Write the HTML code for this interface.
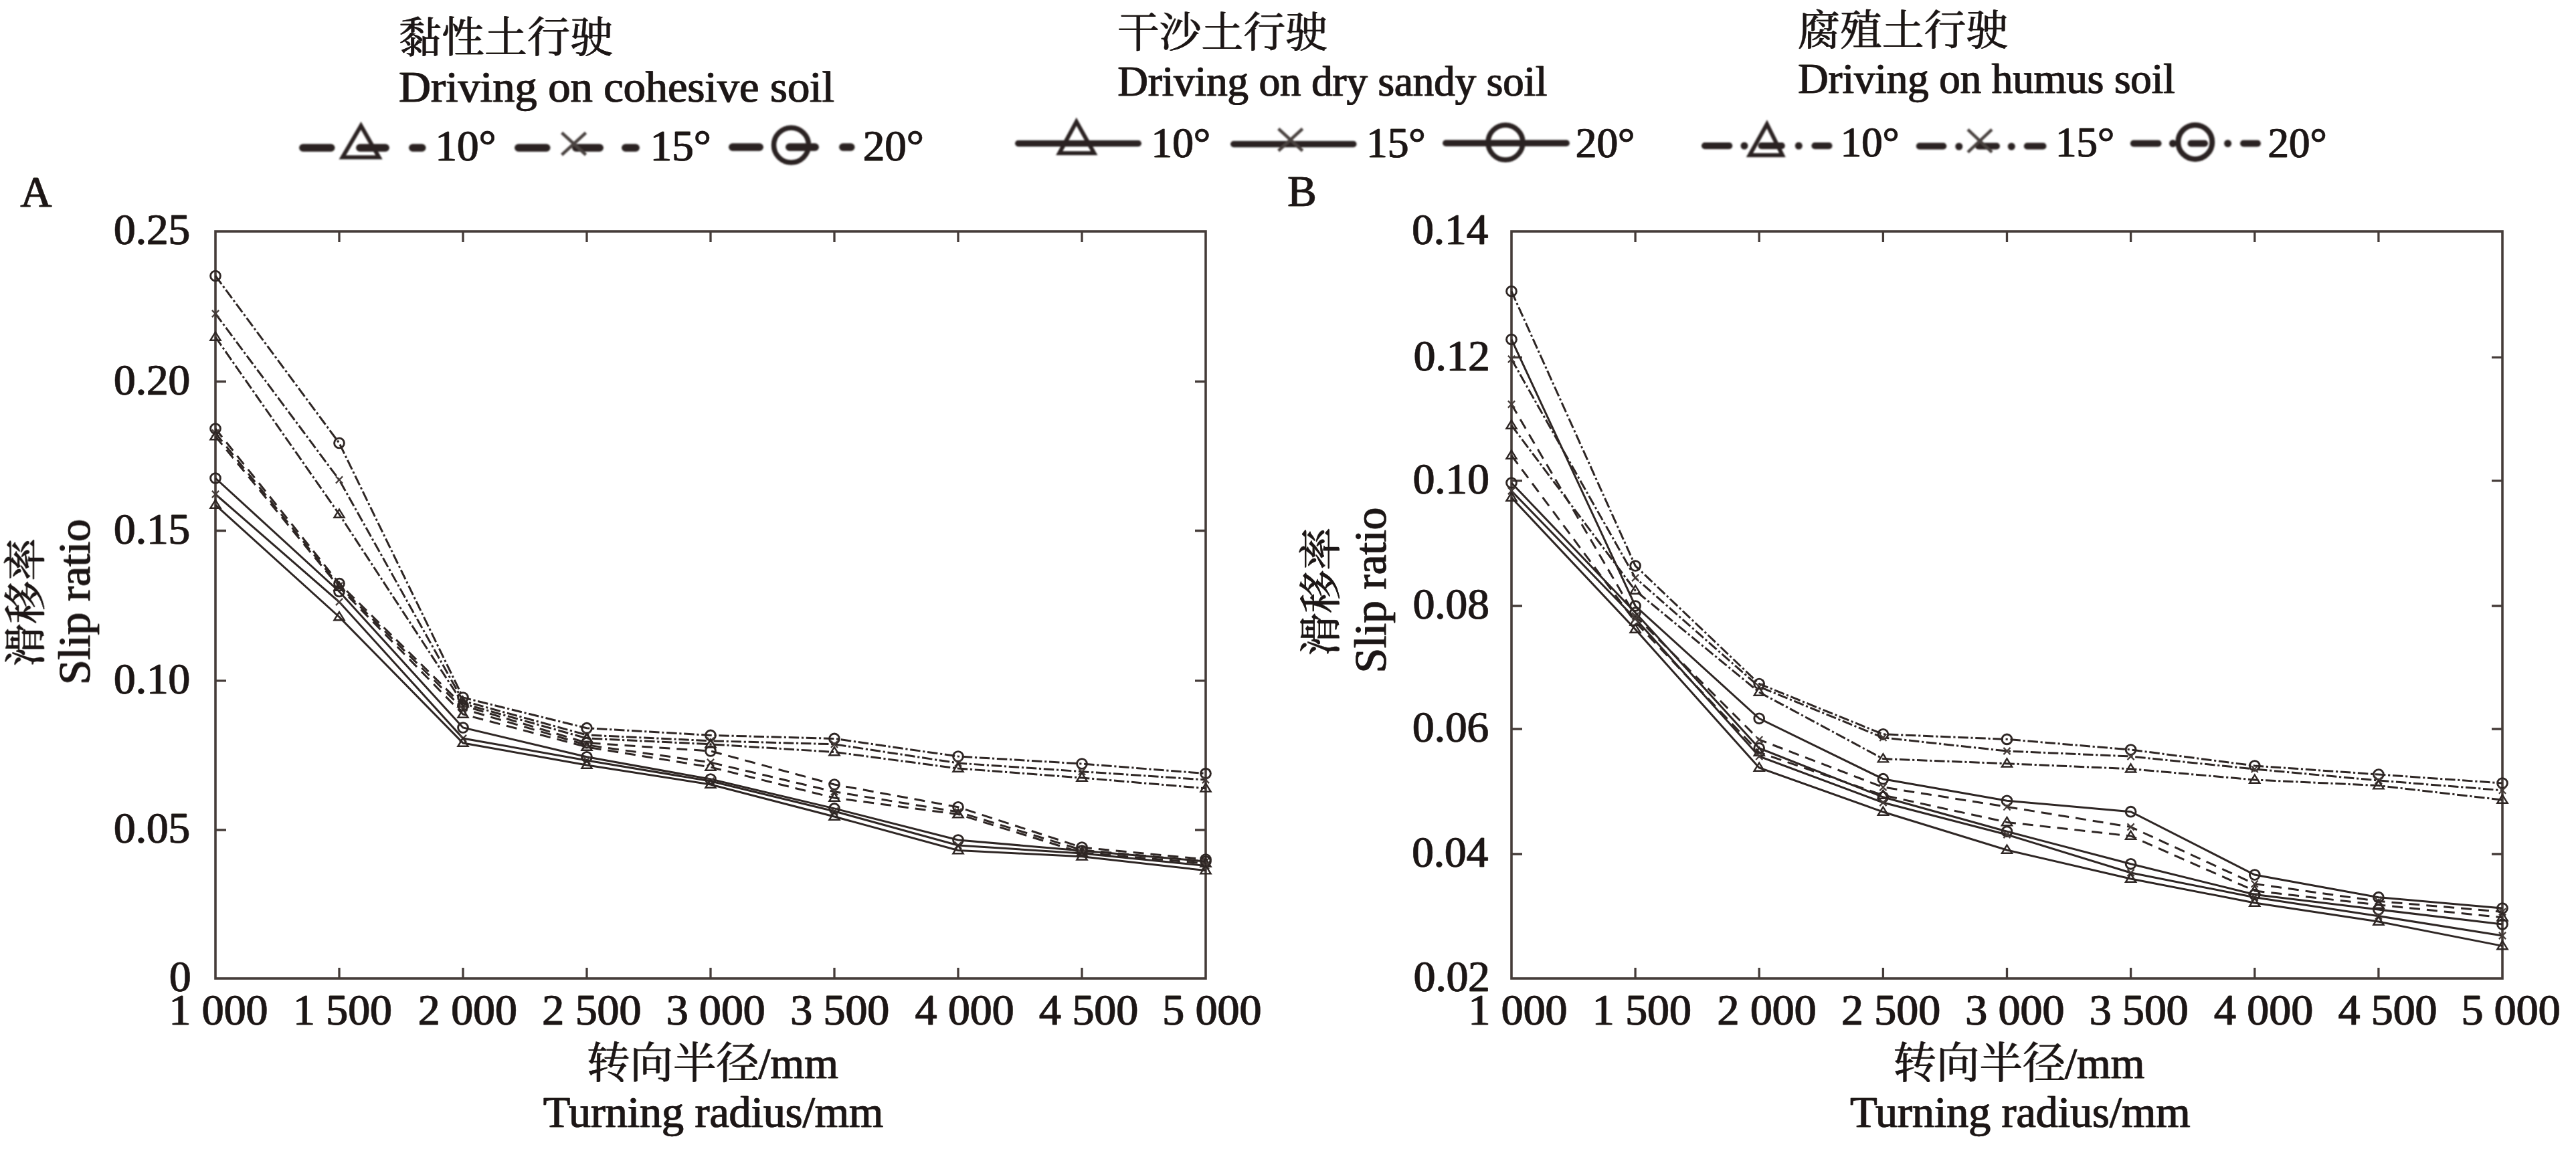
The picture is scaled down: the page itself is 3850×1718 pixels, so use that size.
<!DOCTYPE html>
<html lang="zh"><head><meta charset="utf-8"><title>Slip ratio vs turning radius</title>
<style>html,body{margin:0;padding:0;background:#fff}svg{display:block}text{font-family:"Liberation Serif","Noto Serif CJK SC",serif;fill:#1d1815;stroke:#1d1815;stroke-width:0.5px;stroke-linejoin:round;filter:url(#em)}.cj{font-family:"Noto Serif CJK SC","Liberation Serif",serif;stroke-width:0.3px}</style></head><body>
<svg width="3850" height="1718" viewBox="0 0 3850 1718">
<rect width="3850" height="1718" fill="#fff"/>
<defs><filter id="em" x="-2%" y="-20%" width="104%" height="140%"><feOffset in="SourceGraphic" dx="1" result="a"/><feMerge><feMergeNode in="a"/><feMergeNode in="SourceGraphic"/></feMerge></filter></defs>
<text x="595.4" y="77.5" class="cj" font-size="64">黏性土行驶</text>
<text x="595.6" y="151.6" font-size="66.4">Driving on cohesive soil</text>
<text x="1669.4" y="69.5" class="cj" font-size="62.8">干沙土行驶</text>
<text x="1670.1" y="142.5" font-size="62.8">Driving on dry sandy soil</text>
<text x="2686.7" y="67" class="cj" font-size="62.8">腐殖土行驶</text>
<text x="2686.7" y="139.3" font-size="62.8">Driving on humus soil</text>
<defs><filter id="bl" x="-5%" y="-30%" width="110%" height="160%"><feGaussianBlur stdDeviation="1.1"/></filter></defs>
<g fill="none" stroke="#2a2321" filter="url(#bl)">
<path d="M452.8 221H494.8M537.8 221H576.2M616.8 221H630.8" stroke-width="11.5" stroke-linecap="round"/>
<path d="M539.5 188.1L566.5 235.3L511.8 235.3Z" stroke-width="6" stroke-linejoin="miter"/>
<path d="M774.8 221H816.8M860.8 221H896.2M934.8 221H950.2" stroke-width="11.5" stroke-linecap="round"/>
<path d="M839.6 198.5L875.6 231.5M839.6 231.5L875.6 198.5" stroke-width="4.6" stroke="#4a4240"/>
<path d="M1094.8 220H1135.2M1179.8 220H1218.2M1259.8 220H1271.8" stroke-width="11.5" stroke-linecap="round"/>
<circle cx="1182.5" cy="217" r="26" stroke-width="7.6"/>
<path d="M1521.8 214.5H1701.2" stroke-width="9.5" stroke-linecap="round"/>
<path d="M1608.8 182.0L1635.3 229.0L1583.2 229.0Z" stroke-width="6" stroke-linejoin="miter"/>
<path d="M1843.8 215.5H2022.8" stroke-width="9.5" stroke-linecap="round"/>
<path d="M1910.7 192.5L1946.7 225.5M1910.7 225.5L1946.7 192.5" stroke-width="4.6" stroke="#4a4240"/>
<path d="M2160.8 214H2341.2" stroke-width="9.5" stroke-linecap="round"/>
<circle cx="2250" cy="213" r="26" stroke-width="7.6"/>
<path d="M2548.0 218H2584.3M2632.6 218H2662.8M2712.4 218H2733.5" stroke-width="10" stroke-linecap="round"/>
<path d="M2607.0 218h.01M2688.3 218h.01" stroke-width="11" stroke-linecap="round"/>
<path d="M2640.8 185.7L2663.9 232.0L2614.9 232.0Z" stroke-width="6" stroke-linejoin="miter"/>
<path d="M2868.8 218.5H2904.3M2957.0 218.5H2984.0M3029.8 218.5H3053.5" stroke-width="10" stroke-linecap="round"/>
<path d="M2927.8 219h.01M3006.3 219h.01" stroke-width="11" stroke-linecap="round"/>
<path d="M2941 193.7L2977 227.7M2941 227.7L2977 193.7" stroke-width="4.6" stroke="#4a4240"/>
<path d="M3188.8 214.5H3225.6M3274.5 214.5H3295.0M3353.0 214.5H3374.0" stroke-width="10" stroke-linecap="round"/>
<path d="M3247.5 214.5h.01M3329.6 214.5h.01" stroke-width="11" stroke-linecap="round"/>
<circle cx="3280.8" cy="212.4" r="25.5" stroke-width="8"/>
</g>
<text x="650.1" y="239.5" font-size="65">10°</text>
<text x="971.3" y="239.5" font-size="65">15°</text>
<text x="1289.2" y="239.5" font-size="65">20°</text>
<text x="1720.0" y="235" font-size="63.3">10°</text>
<text x="2041.5" y="235" font-size="63.3">15°</text>
<text x="2354.3" y="234.5" font-size="63.3">20°</text>
<text x="2750.3" y="234" font-size="62.8">10°</text>
<text x="3071.6" y="234" font-size="62.8">15°</text>
<text x="3389.1" y="234.5" font-size="62.8">20°</text>
<text x="29.9" y="308.5" font-size="65">A</text>
<text x="1923.7" y="307.5" font-size="65">B</text>
<g fill="none" stroke="#2e2624">
<rect x="322" y="346" width="1480" height="1117" stroke-width="3.6" stroke="#453c39"/>
<path d="M507.0 1463v-16M507.0 346v16M692.0 1463v-16M692.0 346v16M877.0 1463v-16M877.0 346v16M1062.0 1463v-16M1062.0 346v16M1247.0 1463v-16M1247.0 346v16M1432.0 1463v-16M1432.0 346v16M1617.0 1463v-16M1617.0 346v16M322 1241.0h16M1802 1241.0h-16M322 1017.8h16M1802 1017.8h-16M322 793.5h16M1802 793.5h-16M322 570.5h16M1802 570.5h-16" stroke-width="3.3" stroke="#453c39"/>
<polyline points="322.0,412.5 507.0,662.5 692.0,1043.0 877.0,1088.7 1062.0,1099.4 1247.0,1104.4 1432.0,1131.0 1617.0,1142.0 1802.0,1156.6" stroke-width="3" stroke-dasharray="15.5 3.7 3.2 3.7"/>
<g><circle cx="322.0" cy="412.5" r="7.4" stroke-width="2.9"/><circle cx="507.0" cy="662.5" r="7.4" stroke-width="2.9"/><circle cx="692.0" cy="1043.0" r="7.4" stroke-width="2.9"/><circle cx="877.0" cy="1088.7" r="7.4" stroke-width="2.9"/><circle cx="1062.0" cy="1099.4" r="7.4" stroke-width="2.9"/><circle cx="1247.0" cy="1104.4" r="7.4" stroke-width="2.9"/><circle cx="1432.0" cy="1131.0" r="7.4" stroke-width="2.9"/><circle cx="1617.0" cy="1142.0" r="7.4" stroke-width="2.9"/><circle cx="1802.0" cy="1156.6" r="7.4" stroke-width="2.9"/></g>
<polyline points="322.0,469.0 507.0,717.5 692.0,1048.0 877.0,1099.0 1062.0,1107.8 1247.0,1112.8 1432.0,1141.0 1617.0,1153.7 1802.0,1166.0" stroke-width="3" stroke-dasharray="15.5 3.7 3.2 3.7"/>
<g><path d="M316.9 463.9L327.1 474.1M316.9 474.1L327.1 463.9" stroke-width="2.2" stroke="#453c39"/><path d="M501.9 712.4L512.1 722.6M501.9 722.6L512.1 712.4" stroke-width="2.2" stroke="#453c39"/><path d="M686.9 1042.9L697.1 1053.1M686.9 1053.1L697.1 1042.9" stroke-width="2.2" stroke="#453c39"/><path d="M871.9 1093.9L882.1 1104.1M871.9 1104.1L882.1 1093.9" stroke-width="2.2" stroke="#453c39"/><path d="M1056.9 1102.7L1067.1 1112.9M1056.9 1112.9L1067.1 1102.7" stroke-width="2.2" stroke="#453c39"/><path d="M1241.9 1107.7L1252.1 1117.9M1241.9 1117.9L1252.1 1107.7" stroke-width="2.2" stroke="#453c39"/><path d="M1426.9 1135.9L1437.1 1146.1M1426.9 1146.1L1437.1 1135.9" stroke-width="2.2" stroke="#453c39"/><path d="M1611.9 1148.6L1622.1 1158.8M1611.9 1158.8L1622.1 1148.6" stroke-width="2.2" stroke="#453c39"/><path d="M1796.9 1160.9L1807.1 1171.1M1796.9 1171.1L1807.1 1160.9" stroke-width="2.2" stroke="#453c39"/></g>
<polyline points="322.0,504.0 507.0,769.0 692.0,1052.0 877.0,1104.0 1062.0,1112.8 1247.0,1124.5 1432.0,1149.0 1617.0,1163.0 1802.0,1178.8" stroke-width="3" stroke-dasharray="15.5 3.7 3.2 3.7"/>
<g><path d="M322.0 496.6L329.6 508.8L314.4 508.8Z" stroke-width="2.4" stroke-linejoin="miter"/><path d="M507.0 761.6L514.6 773.8L499.4 773.8Z" stroke-width="2.4" stroke-linejoin="miter"/><path d="M692.0 1044.6L699.6 1056.8L684.4 1056.8Z" stroke-width="2.4" stroke-linejoin="miter"/><path d="M877.0 1096.6L884.6 1108.8L869.4 1108.8Z" stroke-width="2.4" stroke-linejoin="miter"/><path d="M1062.0 1105.4L1069.6 1117.6L1054.4 1117.6Z" stroke-width="2.4" stroke-linejoin="miter"/><path d="M1247.0 1117.1L1254.6 1129.3L1239.4 1129.3Z" stroke-width="2.4" stroke-linejoin="miter"/><path d="M1432.0 1141.6L1439.6 1153.8L1424.4 1153.8Z" stroke-width="2.4" stroke-linejoin="miter"/><path d="M1617.0 1155.6L1624.6 1167.8L1609.4 1167.8Z" stroke-width="2.4" stroke-linejoin="miter"/><path d="M1802.0 1171.4L1809.6 1183.6L1794.4 1183.6Z" stroke-width="2.4" stroke-linejoin="miter"/></g>
<polyline points="322.0,641.0 507.0,872.5 692.0,1055.0 877.0,1110.7 1062.0,1123.0 1247.0,1173.0 1432.0,1206.8 1617.0,1267.0 1802.0,1285.0" stroke-width="3" stroke-dasharray="16 10"/>
<g><circle cx="322.0" cy="641.0" r="7.4" stroke-width="2.9"/><circle cx="507.0" cy="872.5" r="7.4" stroke-width="2.9"/><circle cx="692.0" cy="1055.0" r="7.4" stroke-width="2.9"/><circle cx="877.0" cy="1110.7" r="7.4" stroke-width="2.9"/><circle cx="1062.0" cy="1123.0" r="7.4" stroke-width="2.9"/><circle cx="1247.0" cy="1173.0" r="7.4" stroke-width="2.9"/><circle cx="1432.0" cy="1206.8" r="7.4" stroke-width="2.9"/><circle cx="1617.0" cy="1267.0" r="7.4" stroke-width="2.9"/><circle cx="1802.0" cy="1285.0" r="7.4" stroke-width="2.9"/></g>
<polyline points="322.0,647.5 507.0,876.0 692.0,1060.0 877.0,1114.0 1062.0,1140.0 1247.0,1183.8 1432.0,1214.0 1617.0,1271.0 1802.0,1288.0" stroke-width="3" stroke-dasharray="16 10"/>
<g><path d="M316.9 642.4L327.1 652.6M316.9 652.6L327.1 642.4" stroke-width="2.2" stroke="#453c39"/><path d="M501.9 870.9L512.1 881.1M501.9 881.1L512.1 870.9" stroke-width="2.2" stroke="#453c39"/><path d="M686.9 1054.9L697.1 1065.1M686.9 1065.1L697.1 1054.9" stroke-width="2.2" stroke="#453c39"/><path d="M871.9 1108.9L882.1 1119.1M871.9 1119.1L882.1 1108.9" stroke-width="2.2" stroke="#453c39"/><path d="M1056.9 1134.9L1067.1 1145.1M1056.9 1145.1L1067.1 1134.9" stroke-width="2.2" stroke="#453c39"/><path d="M1241.9 1178.7L1252.1 1188.9M1241.9 1188.9L1252.1 1178.7" stroke-width="2.2" stroke="#453c39"/><path d="M1426.9 1208.9L1437.1 1219.1M1426.9 1219.1L1437.1 1208.9" stroke-width="2.2" stroke="#453c39"/><path d="M1611.9 1265.9L1622.1 1276.1M1611.9 1276.1L1622.1 1265.9" stroke-width="2.2" stroke="#453c39"/><path d="M1796.9 1282.9L1807.1 1293.1M1796.9 1293.1L1807.1 1282.9" stroke-width="2.2" stroke="#453c39"/></g>
<polyline points="322.0,652.5 507.0,878.0 692.0,1068.0 877.0,1117.0 1062.0,1147.0 1247.0,1193.0 1432.0,1217.5 1617.0,1275.0 1802.0,1291.0" stroke-width="3" stroke-dasharray="16 10"/>
<g><path d="M322.0 645.1L329.6 657.3L314.4 657.3Z" stroke-width="2.4" stroke-linejoin="miter"/><path d="M507.0 870.6L514.6 882.8L499.4 882.8Z" stroke-width="2.4" stroke-linejoin="miter"/><path d="M692.0 1060.6L699.6 1072.8L684.4 1072.8Z" stroke-width="2.4" stroke-linejoin="miter"/><path d="M877.0 1109.6L884.6 1121.8L869.4 1121.8Z" stroke-width="2.4" stroke-linejoin="miter"/><path d="M1062.0 1139.6L1069.6 1151.8L1054.4 1151.8Z" stroke-width="2.4" stroke-linejoin="miter"/><path d="M1247.0 1185.6L1254.6 1197.8L1239.4 1197.8Z" stroke-width="2.4" stroke-linejoin="miter"/><path d="M1432.0 1210.1L1439.6 1222.3L1424.4 1222.3Z" stroke-width="2.4" stroke-linejoin="miter"/><path d="M1617.0 1267.6L1624.6 1279.8L1609.4 1279.8Z" stroke-width="2.4" stroke-linejoin="miter"/><path d="M1802.0 1283.6L1809.6 1295.8L1794.4 1295.8Z" stroke-width="2.4" stroke-linejoin="miter"/></g>
<polyline points="322.0,715.0 507.0,884.5 692.0,1088.0 877.0,1131.8 1062.0,1165.0 1247.0,1208.9 1432.0,1256.0 1617.0,1272.0 1802.0,1288.0" stroke-width="3"/>
<g><circle cx="322.0" cy="715.0" r="7.4" stroke-width="2.9"/><circle cx="507.0" cy="884.5" r="7.4" stroke-width="2.9"/><circle cx="692.0" cy="1088.0" r="7.4" stroke-width="2.9"/><circle cx="877.0" cy="1131.8" r="7.4" stroke-width="2.9"/><circle cx="1062.0" cy="1165.0" r="7.4" stroke-width="2.9"/><circle cx="1247.0" cy="1208.9" r="7.4" stroke-width="2.9"/><circle cx="1432.0" cy="1256.0" r="7.4" stroke-width="2.9"/><circle cx="1617.0" cy="1272.0" r="7.4" stroke-width="2.9"/><circle cx="1802.0" cy="1288.0" r="7.4" stroke-width="2.9"/></g>
<polyline points="322.0,739.0 507.0,900.0 692.0,1104.0 877.0,1137.0 1062.0,1168.0 1247.0,1213.0 1432.0,1264.0 1617.0,1276.0 1802.0,1294.5" stroke-width="3"/>
<g><path d="M316.9 733.9L327.1 744.1M316.9 744.1L327.1 733.9" stroke-width="2.2" stroke="#453c39"/><path d="M501.9 894.9L512.1 905.1M501.9 905.1L512.1 894.9" stroke-width="2.2" stroke="#453c39"/><path d="M686.9 1098.9L697.1 1109.1M686.9 1109.1L697.1 1098.9" stroke-width="2.2" stroke="#453c39"/><path d="M871.9 1131.9L882.1 1142.1M871.9 1142.1L882.1 1131.9" stroke-width="2.2" stroke="#453c39"/><path d="M1056.9 1162.9L1067.1 1173.1M1056.9 1173.1L1067.1 1162.9" stroke-width="2.2" stroke="#453c39"/><path d="M1241.9 1207.9L1252.1 1218.1M1241.9 1218.1L1252.1 1207.9" stroke-width="2.2" stroke="#453c39"/><path d="M1426.9 1258.9L1437.1 1269.1M1426.9 1269.1L1437.1 1258.9" stroke-width="2.2" stroke="#453c39"/><path d="M1611.9 1270.9L1622.1 1281.1M1611.9 1281.1L1622.1 1270.9" stroke-width="2.2" stroke="#453c39"/><path d="M1796.9 1289.4L1807.1 1299.6M1796.9 1299.6L1807.1 1289.4" stroke-width="2.2" stroke="#453c39"/></g>
<polyline points="322.0,755.0 507.0,922.5 692.0,1111.0 877.0,1144.0 1062.0,1173.0 1247.0,1221.0 1432.0,1271.5 1617.0,1280.7 1802.0,1301.6" stroke-width="3"/>
<g><path d="M322.0 747.6L329.6 759.8L314.4 759.8Z" stroke-width="2.4" stroke-linejoin="miter"/><path d="M507.0 915.1L514.6 927.3L499.4 927.3Z" stroke-width="2.4" stroke-linejoin="miter"/><path d="M692.0 1103.6L699.6 1115.8L684.4 1115.8Z" stroke-width="2.4" stroke-linejoin="miter"/><path d="M877.0 1136.6L884.6 1148.8L869.4 1148.8Z" stroke-width="2.4" stroke-linejoin="miter"/><path d="M1062.0 1165.6L1069.6 1177.8L1054.4 1177.8Z" stroke-width="2.4" stroke-linejoin="miter"/><path d="M1247.0 1213.6L1254.6 1225.8L1239.4 1225.8Z" stroke-width="2.4" stroke-linejoin="miter"/><path d="M1432.0 1264.1L1439.6 1276.3L1424.4 1276.3Z" stroke-width="2.4" stroke-linejoin="miter"/><path d="M1617.0 1273.3L1624.6 1285.5L1609.4 1285.5Z" stroke-width="2.4" stroke-linejoin="miter"/><path d="M1802.0 1294.2L1809.6 1306.4L1794.4 1306.4Z" stroke-width="2.4" stroke-linejoin="miter"/></g>
</g>
<g fill="none" stroke="#2e2624">
<rect x="2259" y="346" width="1481" height="1117" stroke-width="3.6" stroke="#453c39"/>
<path d="M2444.1 1463v-16M2444.1 346v16M2629.2 1463v-16M2629.2 346v16M2814.4 1463v-16M2814.4 346v16M2999.5 1463v-16M2999.5 346v16M3184.6 1463v-16M3184.6 346v16M3369.8 1463v-16M3369.8 346v16M3554.9 1463v-16M3554.9 346v16M2259 1277.0h16M3740 1277.0h-16M2259 1090.0h16M3740 1090.0h-16M2259 906.0h16M3740 906.0h-16M2259 718.8h16M3740 718.8h-16M2259 534.3h16M3740 534.3h-16" stroke-width="3.3" stroke="#453c39"/>
<polyline points="2259.0,435.5 2444.1,846.0 2629.2,1022.5 2814.4,1097.8 2999.5,1105.4 3184.6,1121.0 3369.8,1145.0 3554.9,1158.0 3740.0,1171.0" stroke-width="3" stroke-dasharray="15.5 3.7 3.2 3.7"/>
<g><circle cx="2259.0" cy="435.5" r="7.4" stroke-width="2.9"/><circle cx="2444.1" cy="846.0" r="7.4" stroke-width="2.9"/><circle cx="2629.2" cy="1022.5" r="7.4" stroke-width="2.9"/><circle cx="2814.4" cy="1097.8" r="7.4" stroke-width="2.9"/><circle cx="2999.5" cy="1105.4" r="7.4" stroke-width="2.9"/><circle cx="3184.6" cy="1121.0" r="7.4" stroke-width="2.9"/><circle cx="3369.8" cy="1145.0" r="7.4" stroke-width="2.9"/><circle cx="3554.9" cy="1158.0" r="7.4" stroke-width="2.9"/><circle cx="3740.0" cy="1171.0" r="7.4" stroke-width="2.9"/></g>
<polyline points="2259.0,537.0 2444.1,864.0 2629.2,1026.8 2814.4,1102.9 2999.5,1123.0 3184.6,1131.0 3369.8,1150.0 3554.9,1167.0 3740.0,1181.7" stroke-width="3" stroke-dasharray="15.5 3.7 3.2 3.7"/>
<g><path d="M2253.9 531.9L2264.1 542.1M2253.9 542.1L2264.1 531.9" stroke-width="2.2" stroke="#453c39"/><path d="M2439.0 858.9L2449.2 869.1M2439.0 869.1L2449.2 858.9" stroke-width="2.2" stroke="#453c39"/><path d="M2624.2 1021.7L2634.3 1031.9M2624.2 1031.9L2634.3 1021.7" stroke-width="2.2" stroke="#453c39"/><path d="M2809.3 1097.8L2819.5 1108.0M2809.3 1108.0L2819.5 1097.8" stroke-width="2.2" stroke="#453c39"/><path d="M2994.4 1117.9L3004.6 1128.1M2994.4 1128.1L3004.6 1117.9" stroke-width="2.2" stroke="#453c39"/><path d="M3179.5 1125.9L3189.7 1136.1M3179.5 1136.1L3189.7 1125.9" stroke-width="2.2" stroke="#453c39"/><path d="M3364.7 1144.9L3374.8 1155.1M3364.7 1155.1L3374.8 1144.9" stroke-width="2.2" stroke="#453c39"/><path d="M3549.8 1161.9L3560.0 1172.1M3549.8 1172.1L3560.0 1161.9" stroke-width="2.2" stroke="#453c39"/><path d="M3734.9 1176.6L3745.1 1186.8M3734.9 1186.8L3745.1 1176.6" stroke-width="2.2" stroke="#453c39"/></g>
<polyline points="2259.0,636.0 2444.1,883.0 2629.2,1035.0 2814.4,1134.6 2999.5,1141.7 3184.6,1149.7 3369.8,1166.0 3554.9,1174.6 3740.0,1196.0" stroke-width="3" stroke-dasharray="15.5 3.7 3.2 3.7"/>
<g><path d="M2259.0 628.6L2266.6 640.8L2251.4 640.8Z" stroke-width="2.4" stroke-linejoin="miter"/><path d="M2444.1 875.6L2451.7 887.8L2436.5 887.8Z" stroke-width="2.4" stroke-linejoin="miter"/><path d="M2629.2 1027.6L2636.8 1039.8L2621.7 1039.8Z" stroke-width="2.4" stroke-linejoin="miter"/><path d="M2814.4 1127.2L2822.0 1139.4L2806.8 1139.4Z" stroke-width="2.4" stroke-linejoin="miter"/><path d="M2999.5 1134.3L3007.1 1146.5L2991.9 1146.5Z" stroke-width="2.4" stroke-linejoin="miter"/><path d="M3184.6 1142.3L3192.2 1154.5L3177.0 1154.5Z" stroke-width="2.4" stroke-linejoin="miter"/><path d="M3369.8 1158.6L3377.3 1170.8L3362.2 1170.8Z" stroke-width="2.4" stroke-linejoin="miter"/><path d="M3554.9 1167.2L3562.5 1179.4L3547.3 1179.4Z" stroke-width="2.4" stroke-linejoin="miter"/><path d="M3740.0 1188.6L3747.6 1200.8L3732.4 1200.8Z" stroke-width="2.4" stroke-linejoin="miter"/></g>
<polyline points="2259.0,507.5 2444.1,906.0 2629.2,1074.3 2814.4,1164.7 2999.5,1197.3 3184.6,1213.7 3369.8,1308.0 3554.9,1341.7 3740.0,1358.0" stroke-width="3"/>
<g><circle cx="2259.0" cy="507.5" r="7.4" stroke-width="2.9"/><circle cx="2444.1" cy="906.0" r="7.4" stroke-width="2.9"/><circle cx="2629.2" cy="1074.3" r="7.4" stroke-width="2.9"/><circle cx="2814.4" cy="1164.7" r="7.4" stroke-width="2.9"/><circle cx="2999.5" cy="1197.3" r="7.4" stroke-width="2.9"/><circle cx="3184.6" cy="1213.7" r="7.4" stroke-width="2.9"/><circle cx="3369.8" cy="1308.0" r="7.4" stroke-width="2.9"/><circle cx="3554.9" cy="1341.7" r="7.4" stroke-width="2.9"/><circle cx="3740.0" cy="1358.0" r="7.4" stroke-width="2.9"/></g>
<polyline points="2259.0,604.5 2444.1,921.0 2629.2,1106.0 2814.4,1177.0 2999.5,1206.4 3184.6,1236.5 3369.8,1321.6 3554.9,1347.5 3740.0,1363.4" stroke-width="3" stroke-dasharray="16 10"/>
<g><path d="M2253.9 599.4L2264.1 609.6M2253.9 609.6L2264.1 599.4" stroke-width="2.2" stroke="#453c39"/><path d="M2439.0 915.9L2449.2 926.1M2439.0 926.1L2449.2 915.9" stroke-width="2.2" stroke="#453c39"/><path d="M2624.2 1100.9L2634.3 1111.1M2624.2 1111.1L2634.3 1100.9" stroke-width="2.2" stroke="#453c39"/><path d="M2809.3 1171.9L2819.5 1182.1M2809.3 1182.1L2819.5 1171.9" stroke-width="2.2" stroke="#453c39"/><path d="M2994.4 1201.3L3004.6 1211.5M2994.4 1211.5L3004.6 1201.3" stroke-width="2.2" stroke="#453c39"/><path d="M3179.5 1231.4L3189.7 1241.6M3179.5 1241.6L3189.7 1231.4" stroke-width="2.2" stroke="#453c39"/><path d="M3364.7 1316.5L3374.8 1326.7M3364.7 1326.7L3374.8 1316.5" stroke-width="2.2" stroke="#453c39"/><path d="M3549.8 1342.4L3560.0 1352.6M3549.8 1352.6L3560.0 1342.4" stroke-width="2.2" stroke="#453c39"/><path d="M3734.9 1358.3L3745.1 1368.5M3734.9 1368.5L3745.1 1358.3" stroke-width="2.2" stroke="#453c39"/></g>
<polyline points="2259.0,681.0 2444.1,930.0 2629.2,1125.0 2814.4,1189.0 2999.5,1229.4 3184.6,1250.0 3369.8,1332.0 3554.9,1353.0 3740.0,1371.8" stroke-width="3" stroke-dasharray="16 10"/>
<g><path d="M2259.0 673.6L2266.6 685.8L2251.4 685.8Z" stroke-width="2.4" stroke-linejoin="miter"/><path d="M2444.1 922.6L2451.7 934.8L2436.5 934.8Z" stroke-width="2.4" stroke-linejoin="miter"/><path d="M2629.2 1117.6L2636.8 1129.8L2621.7 1129.8Z" stroke-width="2.4" stroke-linejoin="miter"/><path d="M2814.4 1181.6L2822.0 1193.8L2806.8 1193.8Z" stroke-width="2.4" stroke-linejoin="miter"/><path d="M2999.5 1222.0L3007.1 1234.2L2991.9 1234.2Z" stroke-width="2.4" stroke-linejoin="miter"/><path d="M3184.6 1242.6L3192.2 1254.8L3177.0 1254.8Z" stroke-width="2.4" stroke-linejoin="miter"/><path d="M3369.8 1324.6L3377.3 1336.8L3362.2 1336.8Z" stroke-width="2.4" stroke-linejoin="miter"/><path d="M3554.9 1345.6L3562.5 1357.8L3547.3 1357.8Z" stroke-width="2.4" stroke-linejoin="miter"/><path d="M3740.0 1364.4L3747.6 1376.6L3732.4 1376.6Z" stroke-width="2.4" stroke-linejoin="miter"/></g>
<polyline points="2259.0,722.0 2444.1,916.0 2629.2,1118.7 2814.4,1191.8 2999.5,1243.2 3184.6,1291.8 3369.8,1337.5 3554.9,1360.0 3740.0,1382.0" stroke-width="3"/>
<g><circle cx="2259.0" cy="722.0" r="7.4" stroke-width="2.9"/><circle cx="2444.1" cy="916.0" r="7.4" stroke-width="2.9"/><circle cx="2629.2" cy="1118.7" r="7.4" stroke-width="2.9"/><circle cx="2814.4" cy="1191.8" r="7.4" stroke-width="2.9"/><circle cx="2999.5" cy="1243.2" r="7.4" stroke-width="2.9"/><circle cx="3184.6" cy="1291.8" r="7.4" stroke-width="2.9"/><circle cx="3369.8" cy="1337.5" r="7.4" stroke-width="2.9"/><circle cx="3554.9" cy="1360.0" r="7.4" stroke-width="2.9"/><circle cx="3740.0" cy="1382.0" r="7.4" stroke-width="2.9"/></g>
<polyline points="2259.0,734.0 2444.1,925.0 2629.2,1131.0 2814.4,1200.0 2999.5,1248.0 3184.6,1305.0 3369.8,1341.7 3554.9,1369.7 3740.0,1399.0" stroke-width="3"/>
<g><path d="M2253.9 728.9L2264.1 739.1M2253.9 739.1L2264.1 728.9" stroke-width="2.2" stroke="#453c39"/><path d="M2439.0 919.9L2449.2 930.1M2439.0 930.1L2449.2 919.9" stroke-width="2.2" stroke="#453c39"/><path d="M2624.2 1125.9L2634.3 1136.1M2624.2 1136.1L2634.3 1125.9" stroke-width="2.2" stroke="#453c39"/><path d="M2809.3 1194.9L2819.5 1205.1M2809.3 1205.1L2819.5 1194.9" stroke-width="2.2" stroke="#453c39"/><path d="M2994.4 1242.9L3004.6 1253.1M2994.4 1253.1L3004.6 1242.9" stroke-width="2.2" stroke="#453c39"/><path d="M3179.5 1299.9L3189.7 1310.1M3179.5 1310.1L3189.7 1299.9" stroke-width="2.2" stroke="#453c39"/><path d="M3364.7 1336.6L3374.8 1346.8M3364.7 1346.8L3374.8 1336.6" stroke-width="2.2" stroke="#453c39"/><path d="M3549.8 1364.6L3560.0 1374.8M3549.8 1374.8L3560.0 1364.6" stroke-width="2.2" stroke="#453c39"/><path d="M3734.9 1393.9L3745.1 1404.1M3734.9 1404.1L3745.1 1393.9" stroke-width="2.2" stroke="#453c39"/></g>
<polyline points="2259.0,744.0 2444.1,941.0 2629.2,1148.0 2814.4,1214.0 2999.5,1271.0 3184.6,1314.0 3369.8,1350.0 3554.9,1378.0 3740.0,1414.4" stroke-width="3"/>
<g><path d="M2259.0 736.6L2266.6 748.8L2251.4 748.8Z" stroke-width="2.4" stroke-linejoin="miter"/><path d="M2444.1 933.6L2451.7 945.8L2436.5 945.8Z" stroke-width="2.4" stroke-linejoin="miter"/><path d="M2629.2 1140.6L2636.8 1152.8L2621.7 1152.8Z" stroke-width="2.4" stroke-linejoin="miter"/><path d="M2814.4 1206.6L2822.0 1218.8L2806.8 1218.8Z" stroke-width="2.4" stroke-linejoin="miter"/><path d="M2999.5 1263.6L3007.1 1275.8L2991.9 1275.8Z" stroke-width="2.4" stroke-linejoin="miter"/><path d="M3184.6 1306.6L3192.2 1318.8L3177.0 1318.8Z" stroke-width="2.4" stroke-linejoin="miter"/><path d="M3369.8 1342.6L3377.3 1354.8L3362.2 1354.8Z" stroke-width="2.4" stroke-linejoin="miter"/><path d="M3554.9 1370.6L3562.5 1382.8L3547.3 1382.8Z" stroke-width="2.4" stroke-linejoin="miter"/><path d="M3740.0 1407.0L3747.6 1419.2L3732.4 1419.2Z" stroke-width="2.4" stroke-linejoin="miter"/></g>
</g>
<text x="252.6" y="1482.3" font-size="65.2">0</text>
<text x="169.6" y="1260.3" font-size="65.2">0.05</text>
<text x="169.6" y="1037.1" font-size="65.2">0.10</text>
<text x="169.6" y="812.8" font-size="65.2">0.15</text>
<text x="169.6" y="589.8" font-size="65.2">0.20</text>
<text x="169.6" y="365.3" font-size="65.2">0.25</text>
<text x="2112.3" y="1482.2" font-size="65.2">0.02</text>
<text x="2109.7" y="1296.2" font-size="65.2">0.04</text>
<text x="2110.6" y="1109.2" font-size="65.2">0.06</text>
<text x="2111.2" y="925.2" font-size="65.2">0.08</text>
<text x="2111.2" y="738.0" font-size="65.2">0.10</text>
<text x="2112.3" y="553.5" font-size="65.2">0.12</text>
<text x="2109.7" y="365.2" font-size="65.2">0.14</text>
<text x="251.9" y="1532" font-size="65.8">1 000</text>
<text x="2193.9" y="1532" font-size="65.8">1 000</text>
<text x="437.4" y="1532" font-size="65.8">1 500</text>
<text x="2379.3" y="1532" font-size="65.8">1 500</text>
<text x="624.3" y="1532" font-size="65.8">2 000</text>
<text x="2566.1" y="1532" font-size="65.8">2 000</text>
<text x="809.8" y="1532" font-size="65.8">2 500</text>
<text x="2751.5" y="1532" font-size="65.8">2 500</text>
<text x="995.2" y="1532" font-size="65.8">3 000</text>
<text x="2936.8" y="1532" font-size="65.8">3 000</text>
<text x="1180.7" y="1532" font-size="65.8">3 500</text>
<text x="3122.2" y="1532" font-size="65.8">3 500</text>
<text x="1367.1" y="1532" font-size="65.8">4 000</text>
<text x="3308.5" y="1532" font-size="65.8">4 000</text>
<text x="1552.6" y="1532" font-size="65.8">4 500</text>
<text x="3493.9" y="1532" font-size="65.8">4 500</text>
<text x="1736.8" y="1532" font-size="65.8">5 000</text>
<text x="3678.0" y="1532" font-size="65.8">5 000</text>
<text x="876.5" y="1612" class="cj" font-size="64.5">转向半径<tspan style="font-family:'Liberation Serif',serif;stroke-width:0.5px" font-size="65" dx="-1.5">/mm</tspan></text>
<text x="811.5" y="1685" font-size="65.9">Turning radius/mm</text>
<text x="2829.0" y="1612" class="cj" font-size="64.5">转向半径<tspan style="font-family:'Liberation Serif',serif;stroke-width:0.5px" font-size="65" dx="-1.5">/mm</tspan></text>
<text x="2764.7" y="1685" font-size="65.9">Turning radius/mm</text>
<text transform="translate(60.3 901) rotate(-90)" text-anchor="middle" class="cj" font-size="64">滑移率</text>
<text transform="translate(134 900.5) rotate(-90)" text-anchor="middle" font-size="67">Slip ratio</text>
<text transform="translate(1996 885) rotate(-90)" text-anchor="middle" class="cj" font-size="64">滑移率</text>
<text transform="translate(2071 883) rotate(-90)" text-anchor="middle" font-size="67">Slip ratio</text>
</svg></body></html>
